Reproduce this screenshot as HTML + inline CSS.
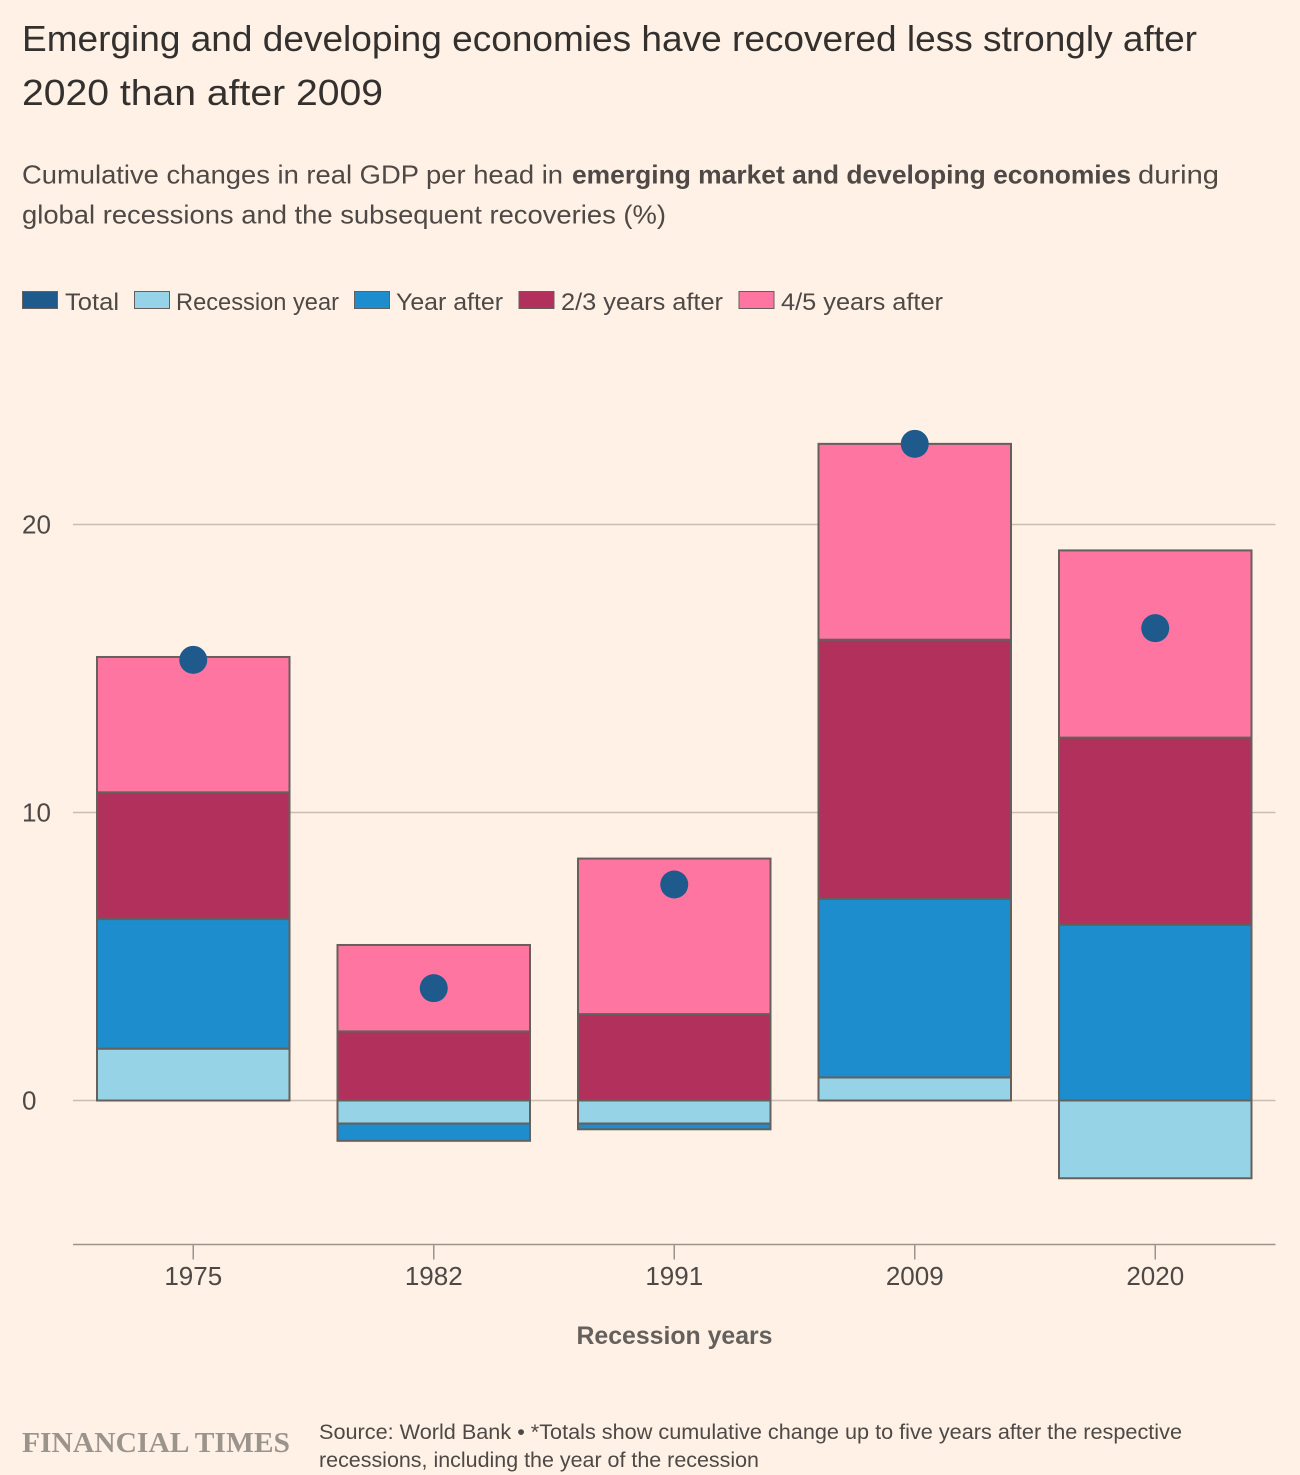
<!DOCTYPE html>
<html lang="en">
<head>
<meta charset="utf-8">
<title>Emerging and developing economies recovery chart</title>
<style>
html,body{margin:0;padding:0;background:#fff1e5;}
body{width:1300px;height:1475px;overflow:hidden;}
svg{display:block;font-family:"Liberation Sans",sans-serif;}
</style>
</head>
<body>
<svg id="chart" width="1300" height="1475" viewBox="0 0 1300 1475" xmlns="http://www.w3.org/2000/svg">
<rect x="0" y="0" width="1300" height="1475" fill="#fff1e5"/>
<g fill="#33302e" font-size="36">
<text x="22" y="51" textLength="1175" lengthAdjust="spacingAndGlyphs">Emerging and developing economies have recovered less strongly after</text>
<text x="22" y="105" textLength="361" lengthAdjust="spacingAndGlyphs">2020 than after 2009</text>
</g>
<g fill="#4e4946" font-size="26">
<text x="22" y="183.5" textLength="541" lengthAdjust="spacingAndGlyphs">Cumulative changes in real GDP per head in</text>
<text x="572" y="183.5" textLength="559" lengthAdjust="spacingAndGlyphs" font-weight="bold">emerging market and developing economies</text>
<text x="1138" y="183.5" textLength="81" lengthAdjust="spacingAndGlyphs">during</text>
<text x="22" y="223.5" textLength="644" lengthAdjust="spacingAndGlyphs">global recessions and the subsequent recoveries (%)</text>
</g>
<g id="legend" font-size="24" fill="#4e4946">
<g><rect x="22.5" y="291.5" width="35" height="17" fill="#1e5a8c" stroke="#66605c"/><text x="65" y="310" textLength="54" lengthAdjust="spacingAndGlyphs">Total</text></g>
<g><rect x="134.5" y="291.5" width="35" height="17" fill="#96d3e8" stroke="#66605c"/><text x="176" y="310" textLength="163" lengthAdjust="spacingAndGlyphs">Recession year</text></g>
<g><rect x="354.5" y="291.5" width="35" height="17" fill="#1e8dcd" stroke="#66605c"/><text x="396" y="310" textLength="107" lengthAdjust="spacingAndGlyphs">Year after</text></g>
<g><rect x="519" y="291.5" width="35" height="17" fill="#b1305c" stroke="#66605c"/><text x="561" y="310" textLength="162" lengthAdjust="spacingAndGlyphs">2/3 years after</text></g>
<g><rect x="739" y="291.5" width="35" height="17" fill="#ff75a2" stroke="#66605c"/><text x="781" y="310" textLength="162" lengthAdjust="spacingAndGlyphs">4/5 years after</text></g>
</g>
<g id="grid"></g>
<g id="bars"></g>
<g id="dots"></g>
<g id="axis"></g>
<text x="674.5" y="1344" text-anchor="middle" font-size="25" font-weight="bold" fill="#66605c" textLength="196" lengthAdjust="spacingAndGlyphs">Recession years</text>
<text x="22" y="1452" font-family="'Liberation Serif',serif" font-weight="bold" font-size="29" fill="#9b948c" textLength="268" lengthAdjust="spacingAndGlyphs">FINANCIAL TIMES</text>
<g fill="#4e4946" font-size="21">
<text x="319" y="1439" textLength="863" lengthAdjust="spacingAndGlyphs">Source: World Bank • *Totals show cumulative change up to five years after the respective</text>
<text x="319" y="1467" textLength="440" lengthAdjust="spacingAndGlyphs">recessions, including the year of the recession</text>
</g>
</svg>
<script>
const categories = ['1975', '1982', '1991', '2009', '2020'];
const recessionYear = [1.8, -0.8, -0.8, 0.8, -2.7];
const yearAfter = [4.5, -0.6, -0.2, 6.2, 6.1];
const twoThreeYearsAfter = [4.4, 2.4, 3.0, 9.0, 6.5];
const fourFiveYearsAfter = [4.7, 3.0, 5.4, 6.8, 6.5];
const totals = [15.3, 3.9, 7.5, 22.8, 16.4];
const yTicks = [0, 10, 20];

const NS = 'http://www.w3.org/2000/svg';
const yScale = v => 1100.5 - v * 28.8;
const plotLeft = 73, plotRight = 1275.5, axisY = 1244.5;
const step = (plotRight - plotLeft) / categories.length;
const bandWidth = 192.5;
const xCenter = i => plotLeft + step * (i + 0.5);

function make(tag, attrs, parent) {
  const el = document.createElementNS(NS, tag);
  for (const k in attrs) el.setAttribute(k, attrs[k]);
  parent.appendChild(el);
  return el;
}

const gridG = document.getElementById('grid');
yTicks.forEach(t => {
  const line = make('line', {x1: plotLeft, x2: plotRight, y1: yScale(t), y2: yScale(t), stroke: '#c9bdaf', 'stroke-width': 1.5}, gridG);
  
  
  const label = make('text', {x: 22, y: yScale(t) + 9, 'font-size': 26, fill: '#4e4946'}, gridG);
  
  
  label.textContent = t;
});

const series = [
  {key: 'recession-year', values: recessionYear, color: '#96d3e6'},
  {key: 'year-after', values: yearAfter, color: '#1e8dcd'},
  {key: 'two-three-years-after', values: twoThreeYearsAfter, color: '#b1305c'},
  {key: 'four-five-years-after', values: fourFiveYearsAfter, color: '#ff75a2'}
];
const barsG = document.getElementById('bars');
categories.forEach((c, i) => {
  let pos = 0, neg = 0;
  series.forEach(s => {
    const v = s.values[i];
    let a, b;
    if (v >= 0) { a = pos; b = pos + v; pos = b; }
    else { a = neg; b = neg + v; neg = b; }
    const y0 = yScale(Math.max(a, b)), y1 = yScale(Math.min(a, b));
    const r = make('rect', {x: xCenter(i) - bandWidth / 2, y: y0, width: bandWidth, height: y1 - y0, fill: s.color, stroke: '#66605c', 'stroke-width': 2}, barsG);
    
    
  });
});

const dotsG = document.getElementById('dots');
totals.forEach((v, i) => {
  const d = make('circle', {cx: xCenter(i), cy: yScale(v), r: 14, fill: '#1e5a8c'}, dotsG);
  
  
});

const axisG = document.getElementById('axis');
const axisLine = make('line', {x1: plotLeft, x2: plotRight, y1: axisY, y2: axisY, stroke: '#9b948c', 'stroke-width': 1.5}, axisG);


categories.forEach((c, i) => {
  const tick = make('line', {x1: xCenter(i), x2: xCenter(i), y1: axisY, y2: axisY + 15, stroke: '#9b948c', 'stroke-width': 1.5}, axisG);
  
  
  const label = make('text', {x: xCenter(i), y: 1285, 'text-anchor': 'middle', 'font-size': 26, fill: '#4e4946'}, axisG);
  
  
  label.textContent = c;
});
</script>
</body>
</html>
